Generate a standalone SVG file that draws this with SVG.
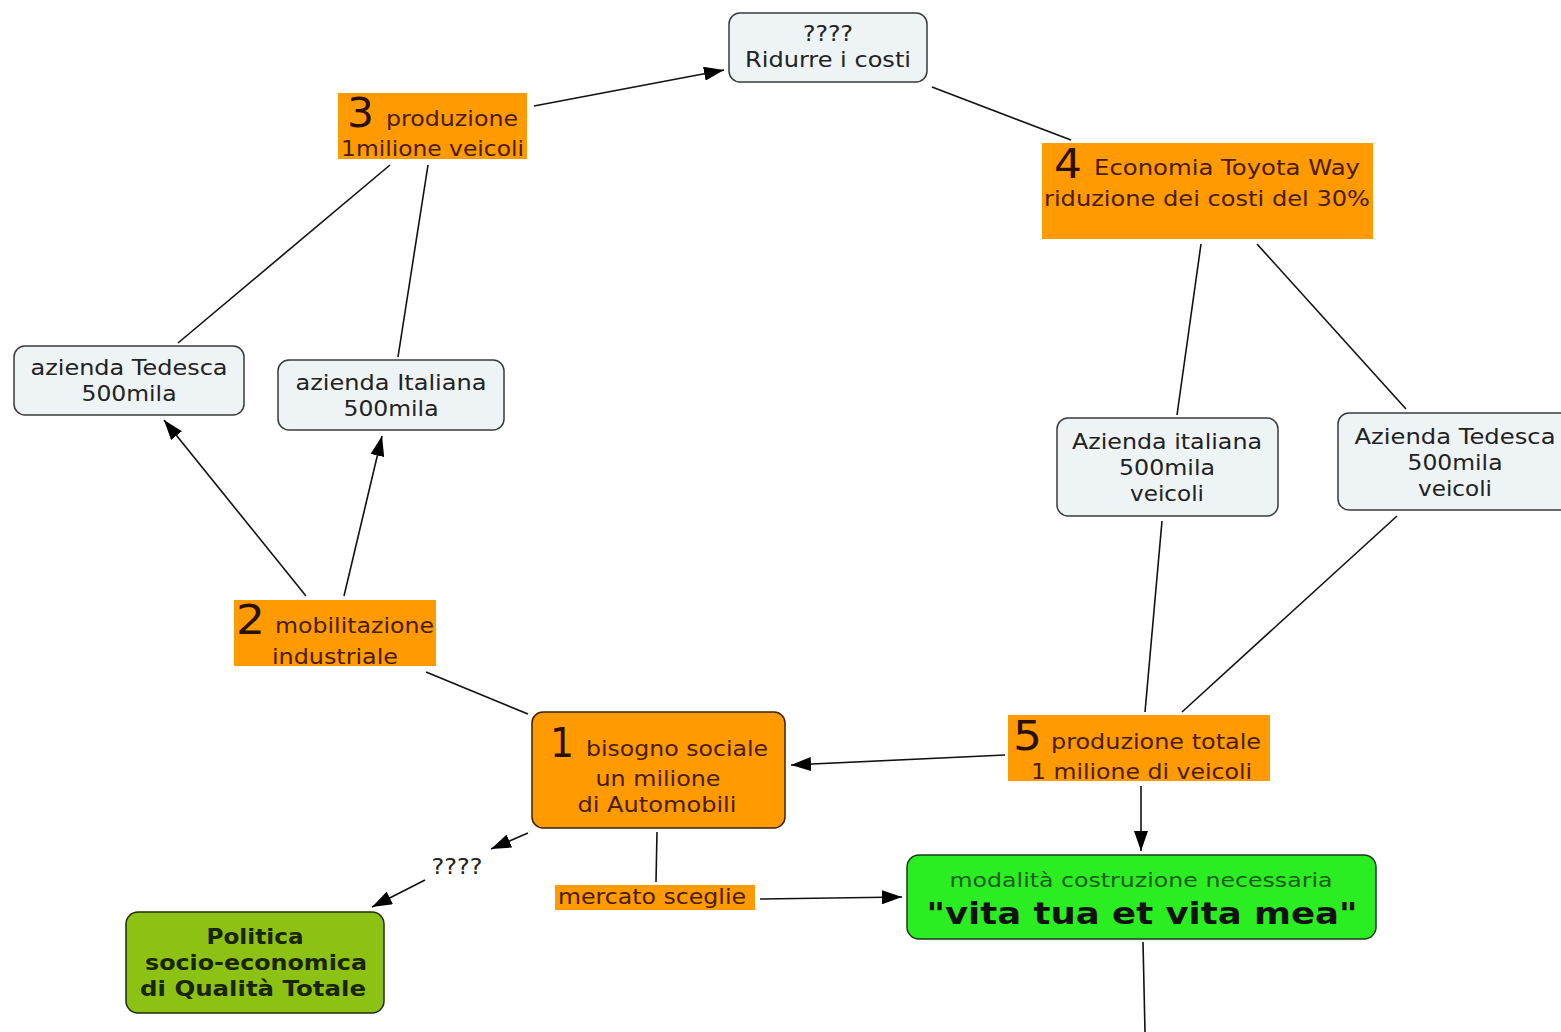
<svg xmlns="http://www.w3.org/2000/svg" width="1561" height="1032" viewBox="0 0 1561 1032">
<style>
text{font-family:"DejaVu Sans","Verdana",sans-serif;}
.lt{fill:#eef3f6;stroke:#3a3a3a;stroke-width:1.5;}
.or{fill:#ff9a00;}
.ot{fill:#4a1c00;font-size:21px;}
.big{fill:#2a1000;font-size:40px;}
.gt{fill:#222;font-size:21px;text-anchor:middle;}
.c{stroke:#111;stroke-width:1.6;fill:none;}
</style>
<defs>
<marker id="ah" viewBox="0 0 20 14" refX="20" refY="7" markerWidth="20" markerHeight="14" markerUnits="userSpaceOnUse" orient="auto">
<path d="M0,0 L20,7 L0,14 Z" fill="#000"/>
</marker>
</defs>
<rect width="1561" height="1032" fill="#fff"/>
<g id="connectors">
<line class="c" x1="534" y1="106" x2="724" y2="70" marker-end="url(#ah)"/>
<line class="c" x1="932" y1="87" x2="1071" y2="140"/>
<line class="c" x1="390" y1="165" x2="178" y2="343"/>
<line class="c" x1="428" y1="165" x2="398" y2="357"/>
<line class="c" x1="306" y1="596" x2="164" y2="420" marker-end="url(#ah)"/>
<line class="c" x1="344" y1="596" x2="382" y2="436" marker-end="url(#ah)"/>
<line class="c" x1="426" y1="672" x2="528" y2="714"/>
<line class="c" x1="1201" y1="244" x2="1177" y2="415"/>
<line class="c" x1="1257" y1="244" x2="1406" y2="409"/>
<line class="c" x1="1162" y1="521" x2="1145" y2="712"/>
<line class="c" x1="1397" y1="516" x2="1182" y2="712"/>
<line class="c" x1="1005" y1="755" x2="791" y2="765" marker-end="url(#ah)"/>
<line class="c" x1="1141" y1="786" x2="1141" y2="851" marker-end="url(#ah)"/>
<line class="c" x1="528" y1="833" x2="491" y2="849" marker-end="url(#ah)"/>
<line class="c" x1="425" y1="880" x2="372" y2="907" marker-end="url(#ah)"/>
<line class="c" x1="657" y1="832" x2="656" y2="882"/>
<line class="c" x1="760" y1="899" x2="902" y2="897" marker-end="url(#ah)"/>
<line class="c" x1="1143" y1="942" x2="1145" y2="1032"/>
</g>
<g id="n-ridurre">
<rect class="lt" x="729" y="13" width="198" height="69" rx="11"/>
<text class="gt" x="828" y="41" textLength="50" lengthAdjust="spacingAndGlyphs">????</text>
<text class="gt" x="828" y="67" textLength="166" lengthAdjust="spacingAndGlyphs">Ridurre i costi</text>
</g>
<g id="n3">
<rect class="or" x="338" y="93" width="189" height="66"/>
<text class="big" x="347" y="127" textLength="27" lengthAdjust="spacingAndGlyphs">3</text>
<text class="ot" x="386" y="126" textLength="132" lengthAdjust="spacingAndGlyphs">produzione</text>
<text class="ot" x="341" y="156" textLength="183" lengthAdjust="spacingAndGlyphs">1milione veicoli</text>
</g>
<g id="n4">
<rect class="or" x="1042" y="143" width="331" height="96"/>
<text class="big" x="1054" y="178" textLength="28" lengthAdjust="spacingAndGlyphs">4</text>
<text class="ot" x="1094" y="175" textLength="266" lengthAdjust="spacingAndGlyphs">Economia Toyota Way</text>
<text class="ot" x="1044" y="206" textLength="326" lengthAdjust="spacingAndGlyphs">riduzione dei costi del 30%</text>
</g>
<g id="n-tedesca-l">
<rect class="lt" x="14" y="346" width="230" height="69" rx="11"/>
<text class="gt" x="129" y="375" textLength="197" lengthAdjust="spacingAndGlyphs">azienda Tedesca</text>
<text class="gt" x="129" y="401" textLength="95" lengthAdjust="spacingAndGlyphs">500mila</text>
</g>
<g id="n-italiana-l">
<rect class="lt" x="278" y="360" width="226" height="70" rx="11"/>
<text class="gt" x="391" y="390" textLength="191" lengthAdjust="spacingAndGlyphs">azienda Italiana</text>
<text class="gt" x="391" y="416" textLength="95" lengthAdjust="spacingAndGlyphs">500mila</text>
</g>
<g id="n-italiana-r">
<rect class="lt" x="1057" y="418" width="221" height="98" rx="11"/>
<text class="gt" x="1167" y="449" textLength="190" lengthAdjust="spacingAndGlyphs">Azienda italiana</text>
<text class="gt" x="1167" y="475" textLength="96" lengthAdjust="spacingAndGlyphs">500mila</text>
<text class="gt" x="1167" y="501" textLength="74" lengthAdjust="spacingAndGlyphs">veicoli</text>
</g>
<g id="n-tedesca-r">
<rect class="lt" x="1338" y="413" width="236" height="97" rx="11"/>
<text class="gt" x="1455" y="444" textLength="201" lengthAdjust="spacingAndGlyphs">Azienda Tedesca</text>
<text class="gt" x="1455" y="470" textLength="95" lengthAdjust="spacingAndGlyphs">500mila</text>
<text class="gt" x="1455" y="496" textLength="74" lengthAdjust="spacingAndGlyphs">veicoli</text>
</g>
<g id="n2">
<rect class="or" x="234" y="600" width="202" height="66"/>
<text class="big" x="236" y="634" textLength="29" lengthAdjust="spacingAndGlyphs">2</text>
<text class="ot" x="275" y="633" textLength="159" lengthAdjust="spacingAndGlyphs">mobilitazione</text>
<text class="ot" x="272" y="664" textLength="126" lengthAdjust="spacingAndGlyphs">industriale</text>
</g>
<g id="n1">
<rect x="532" y="712" width="253" height="116" rx="11" fill="#ff9a00" stroke="#3a2000" stroke-width="1.5"/>
<text class="big" x="550" y="757" textLength="24" lengthAdjust="spacingAndGlyphs">1</text>
<text class="ot" x="586" y="756" textLength="182" lengthAdjust="spacingAndGlyphs">bisogno sociale</text>
<text class="ot" x="658" y="786" text-anchor="middle" textLength="125" lengthAdjust="spacingAndGlyphs">un milione</text>
<text class="ot" x="657" y="812" text-anchor="middle" textLength="159" lengthAdjust="spacingAndGlyphs">di Automobili</text>
</g>
<g id="n5">
<rect class="or" x="1008" y="715" width="262" height="66"/>
<text class="big" x="1013" y="750" textLength="29" lengthAdjust="spacingAndGlyphs">5</text>
<text class="ot" x="1051" y="749" textLength="210" lengthAdjust="spacingAndGlyphs">produzione totale</text>
<text class="ot" x="1031" y="779" textLength="221" lengthAdjust="spacingAndGlyphs">1 milione di veicoli</text>
</g>
<g id="n-qmark">
<text class="gt" x="457" y="874" textLength="51" lengthAdjust="spacingAndGlyphs">????</text>
</g>
<g id="n-mercato">
<rect class="or" x="555" y="885" width="200" height="25"/>
<text class="ot" x="652" y="904" text-anchor="middle" textLength="188" lengthAdjust="spacingAndGlyphs">mercato sceglie</text>
</g>
<g id="n-vita">
<rect x="907" y="855" width="469" height="84" rx="12" fill="#2aee22" stroke="#1a3a1a" stroke-width="1.5"/>
<text x="1141" y="887" text-anchor="middle" font-size="20" fill="#1d5a1d" textLength="383" lengthAdjust="spacingAndGlyphs">modalità costruzione necessaria</text>
<text x="1142" y="924" text-anchor="middle" font-size="31" font-weight="bold" fill="#111" textLength="431" lengthAdjust="spacingAndGlyphs">"vita tua et vita mea"</text>
</g>
<g id="n-politica">
<rect x="126" y="912" width="258" height="101" rx="12" fill="#8cc214" stroke="#1f2a0a" stroke-width="1.5"/>
<text x="255" y="944" text-anchor="middle" font-size="21" font-weight="bold" fill="#1a2400" textLength="97" lengthAdjust="spacingAndGlyphs">Politica</text>
<text x="256" y="970" text-anchor="middle" font-size="21" font-weight="bold" fill="#1a2400" textLength="222" lengthAdjust="spacingAndGlyphs">socio-economica</text>
<text x="253" y="996" text-anchor="middle" font-size="21" font-weight="bold" fill="#1a2400" textLength="226" lengthAdjust="spacingAndGlyphs">di Qualità Totale</text>
</g>
</svg>
